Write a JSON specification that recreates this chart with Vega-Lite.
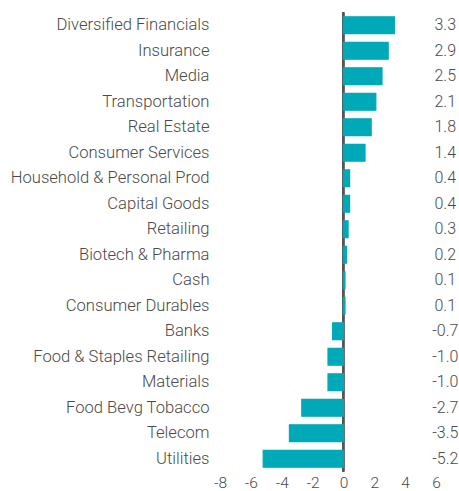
{
  "$schema": "https://vega.github.io/schema/vega-lite/v6.json",
  "autosize": {"type": "none"},
  "padding": {"left": 220, "top": 12.5, "right": 23, "bottom": 19.5},
  "width": 216,
  "height": 459,
  "config": {
    "view": {"stroke": null},
    "font": "Roboto",
    "text": {"font": "Roboto"},
    "axisX": {"labelOverlap": false, "labelBound": false, "labelFlush": false}
  },
  "data": {
    "values": [
      {"sector": "Diversified Financials", "value": 3.3},
      {"sector": "Insurance", "value": 2.9},
      {"sector": "Media", "value": 2.5},
      {"sector": "Transportation", "value": 2.1},
      {"sector": "Real Estate", "value": 1.8},
      {"sector": "Consumer Services", "value": 1.4},
      {"sector": "Household & Personal Prod", "value": 0.4},
      {"sector": "Capital Goods", "value": 0.4},
      {"sector": "Retailing", "value": 0.3},
      {"sector": "Biotech & Pharma", "value": 0.2},
      {"sector": "Cash", "value": 0.1},
      {"sector": "Consumer Durables", "value": 0.1},
      {"sector": "Banks", "value": -0.7},
      {"sector": "Food & Staples Retailing", "value": -1.0},
      {"sector": "Materials", "value": -1.0},
      {"sector": "Food Bevg Tobacco", "value": -2.7},
      {"sector": "Telecom", "value": -3.5},
      {"sector": "Utilities", "value": -5.2}
    ]
  },
  "encoding": {
    "y": {
      "field": "sector",
      "type": "nominal",
      "sort": null,
      "scale": {"paddingInner": 0.34, "paddingOuter": 0.17},
      "axis": {
        "title": null,
        "domain": false,
        "ticks": false,
        "labelPadding": 11,
        "labelLimit": 300,
        "labelFontSize": 16.6,
        "labelFontWeight": 300,
        "labelColor": "#4a4a4a",
        "labelFont": "Roboto"
      }
    },
    "x": {
      "field": "value",
      "type": "quantitative",
      "scale": {"domain": [-8, 6], "nice": false},
      "axis": {
        "title": null,
        "domain": false,
        "ticks": false,
        "grid": false,
        "values": [-8, -6, -4, -2, 0, 2, 4, 6],
        "tickCount": 8,
        "labelOverlap": false,
        "labelExpr": "replace(format(datum.value, 'd'), '\u2212', '-')",
        "labelPadding": 4,
        "labelFontSize": 15.5,
        "labelFontWeight": 300,
        "labelColor": "#4a4a4a",
        "labelFont": "Roboto"
      }
    }
  },
  "layer": [
    {
      "mark": {"type": "rule", "color": "#555555", "strokeWidth": 1.3},
      "encoding": {
        "x": {"datum": 0, "type": "quantitative"},
        "y": null
      }
    },
    {
      "mark": {"type": "bar", "color": "#00a9b7", "stroke": "#00a9b7", "strokeWidth": 1.2}
    },
    {
      "mark": {
        "type": "text",
        "align": "center",
        "baseline": "middle",
        "fontSize": 16,
        "fontWeight": 300,
        "color": "#4a4a4a",
        "text": {"expr": "replace(format(datum.value, '.1f'), '\u2212', '-')"}
      },
      "encoding": {
        "x": {"datum": 6.6, "type": "quantitative"}
      }
    }
  ]
}
